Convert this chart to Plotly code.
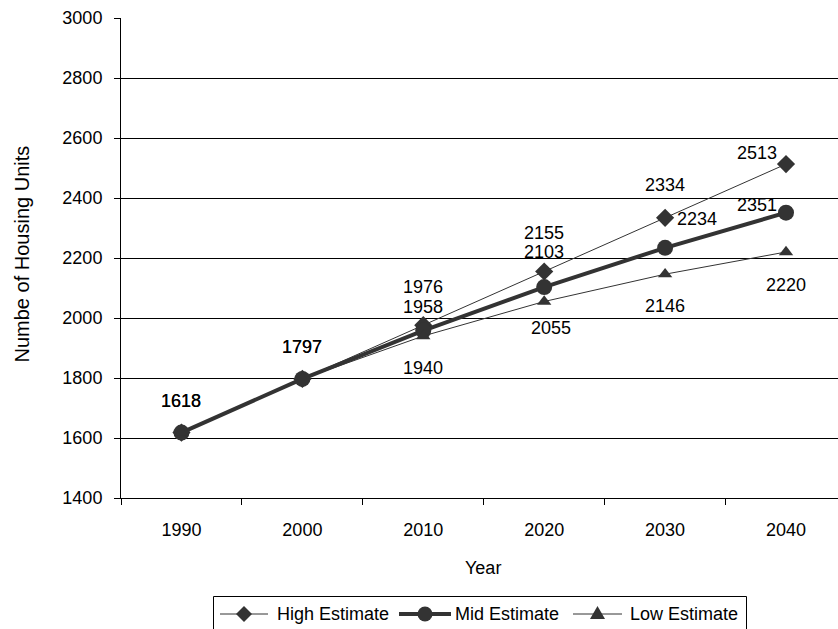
import plotly.graph_objects as go

years = ["1990", "2000", "2010", "2020", "2030", "2040"]
high = [1618, 1797, 1976, 2155, 2334, 2513]
mid = [1618, 1797, 1958, 2103, 2234, 2351]
low = [1618, 1797, 1940, 2055, 2146, 2220]
series_names = ["High Estimate", "Mid Estimate", "Low Estimate"]

# label offsets in pixels (dx, dy up)
high_off = [(0, 32), (0, 32), (0, 38), (0, 39), (0, 33), (-29, 11)]
mid_off = [(0, 32), (0, 32), (0, 24), (0, 35), (32, 29), (-29, 8)]
low_off = [(0, 32), (0, 32), (0, -32), (7, -26), (0, -32), (0, -33)]

FONT = "Liberation Sans, Arial, sans-serif"
C = "#333333"
W, H = 838, 629
ML, MR, MT, MB = 121, 0, 18, 131
PW, PH = W - ML - MR, H - MT - MB


def px2x(px):
    return (px - ML) / PW


def px2y(py):
    return (H - MB - py) / PH


styles = [
    dict(width=1, symbol="diamond", size=14),
    dict(width=4, symbol="circle", size=16),
    dict(width=1, symbol="triangle-up", size=12.5),
]

fig = go.Figure()
for name, vals, st in zip(series_names, (high, mid, low), styles):
    fig.add_trace(go.Scatter(x=years, y=vals, name=name, mode="lines+markers",
                             line=dict(color=C, width=st["width"]),
                             marker=dict(symbol=st["symbol"], size=st["size"], color=C),
                             showlegend=False))

anns = []
seen = {}
for vals, offs in ((high, high_off), (mid, mid_off), (low, low_off)):
    for i, (yv, (dx, dy)) in enumerate(zip(vals, offs)):
        key = (i, yv, dx, dy)
        seen[key] = seen.get(key, 0) + 1
        if seen[key] > 2:
            continue
        anns.append(dict(x=i, y=yv, xref="x", yref="y", text=str(yv), showarrow=False,
                         xanchor="center", yanchor="middle", xshift=dx, yshift=dy,
                         font=dict(family=FONT, size=18, color="black")))

anns.append(dict(x=px2x(483), y=px2y(568), xref="paper", yref="paper", text="Year", showarrow=False,
                 xanchor="center", yanchor="middle", font=dict(family=FONT, size=18, color="black")))
anns.append(dict(x=px2x(21.5), y=px2y(254), xref="paper", yref="paper", text="Numbe of Housing Units",
                 showarrow=False, textangle=-90, xanchor="center", yanchor="middle",
                 font=dict(family=FONT, size=20, color="black")))

# manual legend (box, line samples, markers, texts)
shapes = []
shapes.append(dict(type="rect", xref="paper", yref="paper", x0=px2x(213.5), x1=px2x(746.5),
                   y0=px2y(596.5), y1=px2y(640), line=dict(color="black", width=1),
                   fillcolor="white", layer="above"))
LY = 614
legend_items = [
    (220, 268, 275),
    (399, 451, 453),
    (573, 622, 628),
]
for name, st, (lx0, lx1, tx) in zip(series_names, styles, legend_items):
    shapes.append(dict(type="line", xref="paper", yref="paper", x0=px2x(lx0), x1=px2x(lx1),
                       y0=px2y(LY), y1=px2y(LY), line=dict(color=C, width=st["width"]),
                       layer="above"))
    cx = px2x((lx0 + lx1) / 2)
    if st["symbol"] == "diamond":
        path = "M-8,0L0,8L8,0L0,-8Z"
        shapes.append(dict(type="path", xref="paper", yref="paper", xsizemode="pixel",
                           ysizemode="pixel", xanchor=cx, yanchor=px2y(LY), path=path,
                           fillcolor=C, line=dict(color=C, width=0), layer="above"))
    elif st["symbol"] == "circle":
        shapes.append(dict(type="circle", xref="paper", yref="paper", xsizemode="pixel",
                           ysizemode="pixel", xanchor=cx, yanchor=px2y(LY), x0=-7.5, x1=7.5,
                           y0=-7.5, y1=7.5, fillcolor=C, line=dict(color=C, width=0),
                           layer="above"))
    else:
        path = "M-7.5,-5L7.5,-5L0,8Z"
        shapes.append(dict(type="path", xref="paper", yref="paper", xsizemode="pixel",
                           ysizemode="pixel", xanchor=cx, yanchor=px2y(LY), path=path,
                           fillcolor=C, line=dict(color=C, width=0), layer="above"))
    anns.append(dict(x=px2x(tx), y=px2y(LY), xref="paper", yref="paper", text=name,
                     showarrow=False, xanchor="left", yanchor="middle",
                     font=dict(family=FONT, size=18, color="black")))

fig.update_layout(
    width=W, height=H,
    margin=dict(l=ML, r=MR, t=MT, b=MB),
    paper_bgcolor="white", plot_bgcolor="white",
    font=dict(family=FONT, size=18, color="black"),
    annotations=anns,
    shapes=shapes,
    showlegend=False,
    xaxis=dict(type="category", range=[-0.5, 5.43], tickson="boundaries",
               ticks="outside", ticklen=6, tickcolor="black", showline=True,
               linecolor="black", linewidth=1, showgrid=False, zeroline=False,
               ticklabelstandoff=15,
               tickfont=dict(family=FONT, size=18, color="black")),
    yaxis=dict(range=[1400, 3000], dtick=200, tick0=1400, ticks="outside", ticklen=6,
               tickcolor="black", showline=True, linecolor="black", linewidth=1,
               showgrid=True, gridcolor="black", gridwidth=1, zeroline=False,
               ticklabelstandoff=8,
               tickfont=dict(family=FONT, size=18, color="black")),
)

fig.write_html("out.html")
